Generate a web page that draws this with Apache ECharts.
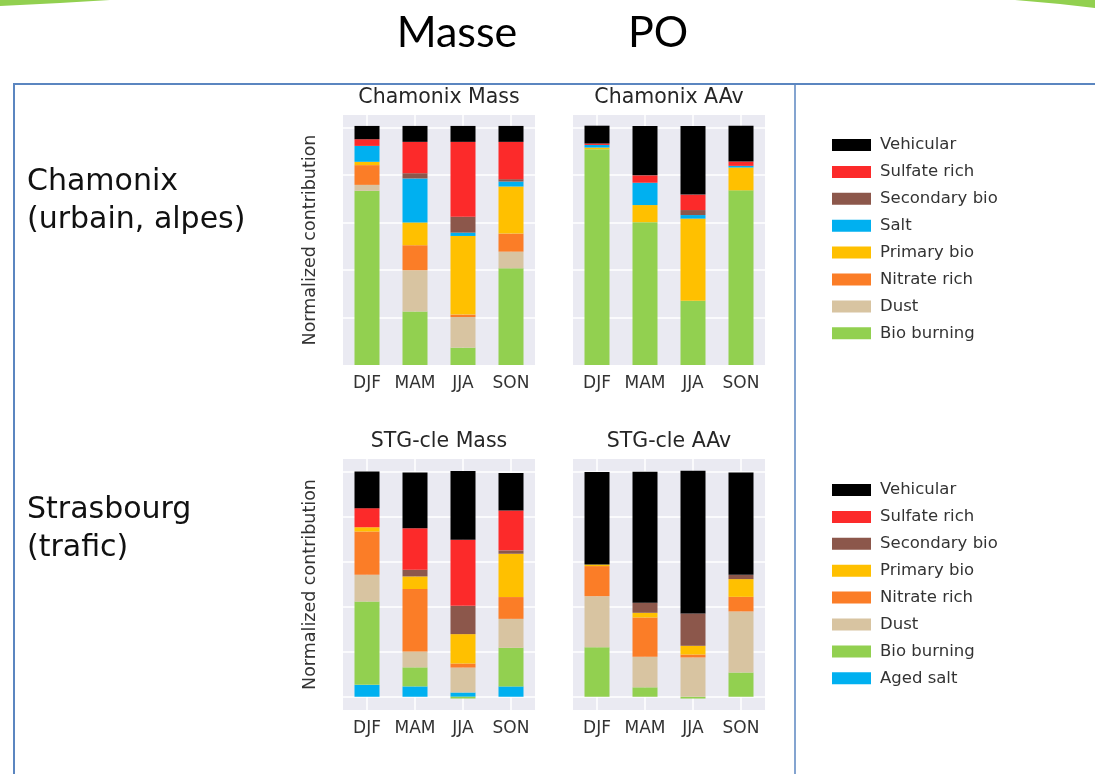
<!DOCTYPE html>
<html><head><meta charset="utf-8">
<script src="https://cdn.jsdelivr.net/npm/echarts@6/dist/echarts.min.js"></script>
<style>html,body{margin:0;padding:0;background:#fff}#c{width:1095px;height:774px}</style>
</head><body><div id="c"></div>
<script>
// ---------- DATA ----------
const seasons = ['DJF', 'MAM', 'JJA', 'SON'];

// stacking order, bottom -> top
const chamonixComponents = ['Bio burning', 'Dust', 'Nitrate rich', 'Primary bio', 'Salt', 'Secondary bio', 'Sulfate rich', 'Vehicular'];
const strasbourgComponents = ['Aged salt', 'Bio burning', 'Dust', 'Nitrate rich', 'Primary bio', 'Secondary bio', 'Sulfate rich', 'Vehicular'];

// legend order, top -> bottom
const chamonixLegend = ['Vehicular', 'Sulfate rich', 'Secondary bio', 'Salt', 'Primary bio', 'Nitrate rich', 'Dust', 'Bio burning'];
const strasbourgLegend = ['Vehicular', 'Sulfate rich', 'Secondary bio', 'Primary bio', 'Nitrate rich', 'Dust', 'Bio burning', 'Aged salt'];

// rows follow chamonixComponents, columns follow seasons
const chamonixMass = [
  [0.733, 0.225, 0.073, 0.407],
  [0.025, 0.174, 0.129, 0.070],
  [0.083, 0.105, 0.010, 0.076],
  [0.014, 0.096, 0.331, 0.198],
  [0.067, 0.185, 0.014, 0.021],
  [0.000, 0.022, 0.067, 0.010],
  [0.028, 0.132, 0.315, 0.157],
  [0.056, 0.067, 0.067, 0.067]
];
const chamonixAAv = [
  [0.908, 0.601, 0.270, 0.735],
  [0.000, 0.000, 0.000, 0.000],
  [0.000, 0.000, 0.000, 0.000],
  [0.007, 0.072, 0.346, 0.096],
  [0.011, 0.094, 0.015, 0.007],
  [0.000, 0.000, 0.021, 0.000],
  [0.006, 0.031, 0.065, 0.018],
  [0.075, 0.208, 0.289, 0.151]
];
// rows follow strasbourgComponents
const strasbourgMass = [
  [0.053, 0.046, 0.019, 0.046],
  [0.371, 0.085, -0.008, 0.172],
  [0.119, 0.071, 0.111, 0.129],
  [0.193, 0.278, 0.018, 0.097],
  [0.019, 0.056, 0.131, 0.193],
  [0.000, 0.030, 0.126, 0.015],
  [0.085, 0.185, 0.294, 0.178],
  [0.163, 0.248, 0.307, 0.167]
];
const strasbourgAAv = [
  [0.000, 0.000, 0.000, 0.000],
  [0.220, 0.042, -0.008, 0.108],
  [0.228, 0.136, 0.175, 0.272],
  [0.134, 0.175, 0.013, 0.065],
  [0.007, 0.021, 0.039, 0.079],
  [0.000, 0.045, 0.144, 0.019],
  [0.000, 0.000, 0.000, 0.000],
  [0.412, 0.583, 0.636, 0.456]
];

const panelTitles = ['Chamonix Mass', 'Chamonix AAv', 'STG-cle Mass', 'STG-cle AAv'];
const yAxisTitle = 'Normalized contribution';

// ---------- STYLE ----------
const colors = {
  'Vehicular': '#000000',
  'Sulfate rich': '#FC2A2A',
  'Secondary bio': '#8C574B',
  'Salt': '#00B0F0',
  'Aged salt': '#00B0F0',
  'Primary bio': '#FFC000',
  'Nitrate rich': '#FB7D27',
  'Dust': '#D8C4A1',
  'Bio burning': '#92D050'
};
const FONT = 'DejaVu Sans';
const grids = [
  { left: 343, top: 115, width: 192, height: 250 },
  { left: 573, top: 115, width: 192, height: 250 },
  { left: 343, top: 459, width: 192, height: 251 },
  { left: 573, top: 459, width: 192, height: 251 }
];
const yRanges = [[0, 1.052], [0, 1.052], [-0.059, 1.059], [-0.059, 1.059]];

const panels = [
  { comps: chamonixComponents, data: chamonixMass },
  { comps: chamonixComponents, data: chamonixAAv },
  { comps: strasbourgComponents, data: strasbourgMass },
  { comps: strasbourgComponents, data: strasbourgAAv }
];

const legendText = { fontFamily: FONT, fontSize: 16.5, color: '#333', lineHeight: 18, padding: [0, 0, 0, 4] };

const option = {
  animation: false,
  backgroundColor: '#ffffff',
  grid: grids.map(g => Object.assign({ show: true, backgroundColor: '#EAEAF2', borderWidth: 0 }, g)),
  xAxis: grids.map((g, i) => ({
    type: 'category', gridIndex: i, data: seasons,
    axisLine: { show: false }, axisTick: { show: false },
    axisLabel: { interval: 0, fontFamily: FONT, fontSize: 17, color: '#333', margin: 10 },
    splitLine: { show: true, alignWithLabel: true, lineStyle: { color: '#ffffff', width: 1.5 } }
  })),
  yAxis: grids.map((g, i) => ({
    type: 'value', gridIndex: i, min: yRanges[i][0], max: yRanges[i][1],
    axisLine: { show: false }, axisTick: { show: false }, axisLabel: { show: false },
    splitLine: { show: true, showMinLine: false, showMaxLine: false, lineStyle: { color: '#ffffff', width: 1.5 } },
    name: (i % 2 === 0) ? yAxisTitle : '',
    nameLocation: 'middle', nameGap: 24,
    nameTextStyle: { fontFamily: FONT, fontSize: 17.5, color: '#333' }
  })),
  legend: [
    { data: chamonixLegend, orient: 'vertical', left: 827, top: 131, icon: 'rect',
      itemWidth: 39, itemHeight: 12, itemGap: 8.9, textStyle: legendText },
    { data: strasbourgLegend, orient: 'vertical', left: 827, top: 476, icon: 'rect',
      itemWidth: 39, itemHeight: 12, itemGap: 8.9, textStyle: legendText }
  ],
  series: [],
  graphic: [
    // slide decorations
    { type: 'polygon', shape: { points: [[0, 0], [110, 0], [60, 3], [0, 6]] }, style: { fill: '#92D050' } },
    { type: 'polygon', shape: { points: [[1095, 0], [1015, 0], [1060, 4], [1095, 8]] }, style: { fill: '#92D050' } },
    // frame
    { type: 'line', shape: { x1: 13, y1: 84, x2: 1095, y2: 84 }, style: { stroke: '#5B86C0', lineWidth: 2 } },
    { type: 'line', shape: { x1: 14, y1: 84, x2: 14, y2: 774 }, style: { stroke: '#5B86C0', lineWidth: 2 } },
    { type: 'line', shape: { x1: 795, y1: 84, x2: 795, y2: 774 }, style: { stroke: '#5B86C0', lineWidth: 1.5 } },
    // headers
    { type: 'text', style: { text: 'Masse', x: 457, y: 33, font: '43px Lato', fill: '#000', textAlign: 'center', textVerticalAlign: 'middle', align: 'center', verticalAlign: 'middle' } },
    { type: 'text', style: { text: 'PO', x: 658, y: 33, font: '43px Lato', fill: '#000', textAlign: 'center', textVerticalAlign: 'middle', align: 'center', verticalAlign: 'middle' } },
    // site labels
    { type: 'text', style: { text: 'Chamonix\n(urbain, alpes)', x: 27, y: 163, font: '30px "DejaVu Sans"', lineHeight: 38, fill: '#111', textAlign: 'left', align: 'left', textVerticalAlign: 'top', verticalAlign: 'top' } },
    { type: 'text', style: { text: 'Strasbourg\n(trafic)', x: 27, y: 491, font: '30px "DejaVu Sans"', lineHeight: 38, fill: '#111', textAlign: 'left', align: 'left', textVerticalAlign: 'top', verticalAlign: 'top' } }
  ]
};

panelTitles.forEach((t, i) => {
  const g = grids[i];
  option.graphic.push({ type: 'text', style: { text: t, x: g.left + g.width / 2, y: g.top - 17, font: '20.5px "DejaVu Sans"', fill: '#262626', textAlign: 'center', align: 'center', textVerticalAlign: 'middle', verticalAlign: 'middle' } });
});

panels.forEach((p, i) => {
  p.comps.forEach((name, k) => {
    option.series.push({
      type: 'bar', name: name, xAxisIndex: i, yAxisIndex: i, stack: 'p' + i,
      barWidth: 25, data: p.data[k], itemStyle: { color: colors[name] }
    });
  });
});

const chart = echarts.init(document.getElementById('c'), null, { renderer: 'canvas' });
chart.setOption(option);
</script>
</body></html>
